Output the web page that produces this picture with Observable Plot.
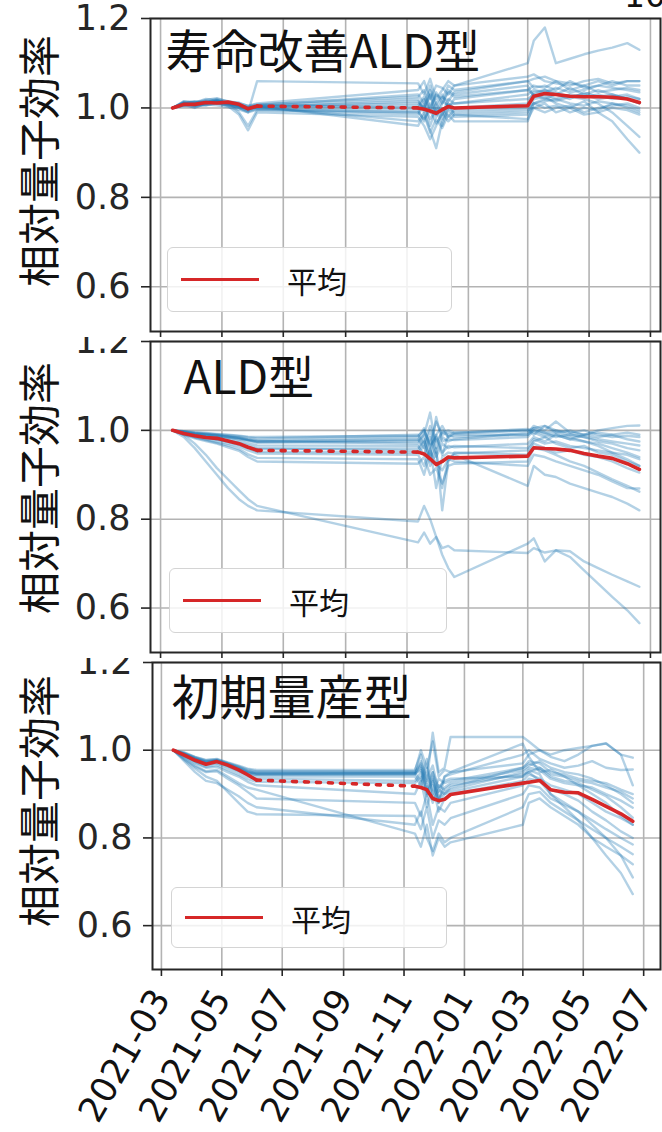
<!DOCTYPE html>
<html>
<head>
<meta charset="utf-8">
<script src="https://cdn.jsdelivr.net/npm/d3@7"></script>
<script src="https://cdn.jsdelivr.net/npm/@observablehq/plot@0.6"></script>
<style>
  html, body { margin: 0; padding: 0; background: #fff; }
  #chart { position: relative; width: 662px; height: 1132px; overflow: hidden; background: #fff; }
  .panel { position: absolute; left: 0; width: 662px; overflow: hidden; background: #fff; }
  .panel svg { overflow: hidden; }
  .ylab { position: absolute; font-family: "Noto Sans CJK JP", sans-serif; font-size: 42px; color: #111;
          white-space: nowrap; transform: translate(-50%, -50%) rotate(-90deg); line-height: 1; }
  .legend { position: absolute; box-sizing: border-box; border: 1.5px solid #d4d4d4; border-radius: 6px;
            background: rgba(255,255,255,0.82); }
  .legend .swatch { position: absolute; left: 13px; height: 3.5px; width: 78px; background: #d62728; }
  .legend .lab { position: absolute; left: 119px; font-family: "Noto Sans CJK JP", sans-serif; font-size: 30px;
                 line-height: 1; color: #111; }
  .corner { position: absolute; left: 624px; top: -24px; font-family: "DejaVu Sans", sans-serif; font-size: 33px; color: #111; }
</style>
</head>
<body>
<div id="chart"></div>
<script>
// Measurement dates shared by all cells (spring 2021, late autumn 2021, spring 2022 sessions)
const measureDates = [
  "2021-03-13","2021-03-24","2021-04-04","2021-04-15","2021-04-26","2021-05-07","2021-05-18","2021-05-27","2021-06-05",
  "2021-11-12","2021-11-18","2021-11-24","2021-11-30","2021-12-06","2021-12-12","2021-12-18",
  "2022-03-01","2022-03-07","2022-03-18","2022-03-29","2022-04-12","2022-04-26","2022-05-10","2022-05-24","2022-06-08","2022-06-20"
];
const panelTitles = ["寿命改善ALD型", "ALD型", "初期量産型"];
const yAxisLabel = "相対量子効率";
const legendLabel = "平均";
const yTickValues = [0.6, 0.8, 1.0, 1.2];
const xTickLabels = ["2021-03","2021-05","2021-07","2021-09","2021-11","2022-01","2022-03","2022-05","2022-07"];

// Average relative quantum efficiency per type
const meanLongLifeALD = [1.000,1.008,1.008,1.012,1.011,1.013,1.008,0.998,1.004, 1.000,0.997,0.993,0.988,0.996,1.003,1.000, 1.005,1.026,1.032,1.030,1.026,1.025,1.025,1.024,1.020,1.012];
const meanALD = [1.000,0.993,0.988,0.984,0.982,0.976,0.970,0.962,0.955, 0.951,0.947,0.936,0.923,0.930,0.940,0.938, 0.942,0.961,0.959,0.958,0.955,0.948,0.942,0.937,0.925,0.912];
const meanEarly = [1.000,0.989,0.977,0.968,0.974,0.966,0.955,0.944,0.932, 0.918,0.915,0.910,0.890,0.885,0.888,0.899, 0.925,0.927,0.931,0.910,0.904,0.903,0.888,0.872,0.855,0.838];

// Individual cells, 寿命改善ALD型
const cellsLongLifeALD = [
  [1.000,1.010,1.015,1.012,1.020,1.015,1.010,1.005,1.010, 1.040,1.060,1.020,1.050,1.045,1.030,1.050, 1.100,1.150,1.180,1.100,1.110,1.120,1.128,1.135,1.145,1.130],
  [1.000,1.005,1.008,1.012,1.010,1.006,1.000,0.990,1.060, 1.055,1.030,1.065,1.020,1.040,1.060,1.050, 1.070,1.075,1.060,1.055,1.050,1.060,1.065,1.055,1.060,1.060],
  [1.000,1.015,1.012,1.020,1.018,1.010,1.005,0.998,1.005, 1.020,0.990,1.030,0.980,1.010,1.035,1.025, 1.040,1.050,1.045,1.060,1.040,1.050,1.035,1.040,1.045,1.040],
  [1.000,1.008,1.000,1.010,1.015,1.012,0.990,0.960,0.995, 0.990,1.010,0.960,1.000,0.975,1.010,1.000, 1.010,1.035,1.040,1.030,1.045,1.030,1.040,1.030,1.020,1.010],
  [1.000,1.012,1.006,1.008,1.012,1.004,0.985,0.950,0.990, 0.980,0.960,0.930,0.960,0.990,0.970,0.985, 0.990,1.020,1.025,1.010,1.000,1.015,0.990,0.970,0.930,0.900],
  [1.000,1.006,1.010,1.016,1.014,1.010,1.006,1.000,1.004, 1.010,1.000,1.030,0.990,1.015,1.005,1.010, 1.020,1.030,1.040,1.035,1.025,1.030,1.020,1.025,1.030,1.020],
  [1.000,1.010,1.005,1.006,1.010,1.008,1.004,0.998,1.002, 0.970,0.990,0.950,0.910,0.970,0.995,0.980, 0.985,1.010,1.015,1.020,1.010,1.005,1.015,1.010,1.005,0.995],
  [1.000,1.014,1.012,1.018,1.022,1.014,1.012,1.004,1.008, 1.025,1.040,1.000,1.030,1.020,1.050,1.040, 1.060,1.045,1.050,1.040,1.060,1.045,1.050,1.060,1.050,1.050],
  [1.000,1.004,1.002,1.008,1.006,1.002,0.996,0.990,0.996, 0.985,1.005,0.975,0.995,0.960,1.000,0.990, 0.995,1.000,1.010,0.990,1.000,0.985,0.990,1.000,0.995,0.985],
  [1.000,1.012,1.014,1.010,1.016,1.010,1.008,1.002,1.006, 1.000,1.020,0.990,1.010,1.030,1.000,1.020, 1.040,1.030,1.020,1.030,1.020,1.035,1.025,1.030,1.020,1.010],
  [1.000,1.008,1.004,1.012,1.016,1.008,1.002,0.994,1.000, 0.995,0.970,1.010,0.985,1.000,0.980,0.995, 1.000,1.010,1.000,1.005,0.990,1.000,0.995,1.010,1.000,0.990],
  [1.000,1.010,1.012,1.014,1.012,1.006,1.002,0.998,1.002, 1.015,1.000,1.040,1.010,0.985,1.020,1.010, 1.030,1.040,1.035,1.045,1.035,1.040,1.050,1.045,1.040,1.035],
  [1.000,1.006,1.008,1.010,1.014,1.010,1.006,1.000,1.004, 0.960,0.985,0.945,0.975,0.955,0.985,0.970, 0.970,1.010,1.020,1.015,1.025,1.020,1.010,0.990,0.960,0.935],
  [1.000,1.010,1.008,1.012,1.016,1.010,1.004,0.996,1.002, 1.005,1.025,0.995,1.035,1.010,1.040,1.030, 1.050,1.025,1.030,1.020,1.030,1.025,1.030,1.020,1.025,1.020],
  [1.000,1.008,1.010,1.006,1.012,1.008,1.000,0.992,0.998, 0.990,0.975,0.995,0.965,0.985,1.010,0.985, 0.975,1.000,0.990,1.000,1.005,0.990,1.000,1.005,1.010,1.000],
  [1.000,1.012,1.006,1.014,1.018,1.012,1.008,1.000,1.006, 1.030,1.010,1.050,1.000,1.025,1.015,1.035, 1.060,1.065,1.070,1.060,1.055,1.050,1.060,1.050,1.060,1.060]
];

// Individual cells, ALD型
const cellsALD = [
  [1.000,0.998,0.996,0.994,0.992,0.990,0.988,0.986,0.985, 0.988,1.000,0.970,1.020,0.990,0.995,0.992, 1.000,1.005,1.010,1.000,0.995,1.000,0.990,0.985,0.988,0.985],
  [1.000,0.996,0.992,0.990,0.988,0.985,0.982,0.978,0.975, 0.980,0.960,1.000,0.950,0.985,0.975,0.980, 0.995,1.010,1.000,1.020,0.995,0.990,1.000,1.005,1.010,1.011],
  [1.000,0.994,0.988,0.984,0.980,0.976,0.970,0.962,0.958, 0.960,0.980,0.930,0.990,0.950,0.965,0.962, 0.970,0.985,0.975,0.990,0.980,0.975,0.970,0.960,0.950,0.940],
  [1.000,0.992,0.985,0.980,0.975,0.970,0.964,0.955,0.948, 0.945,0.920,0.960,0.870,0.940,0.950,0.948, 0.955,0.975,0.985,0.970,0.960,0.965,0.950,0.945,0.930,0.920],
  [1.000,0.995,0.990,0.988,0.986,0.983,0.980,0.977,0.972, 0.975,0.990,1.040,0.960,1.000,0.985,0.990, 0.990,1.000,0.995,0.985,0.990,0.985,0.980,0.975,0.970,0.966],
  [1.000,0.990,0.982,0.976,0.970,0.962,0.954,0.940,0.930, 0.925,0.940,0.900,0.915,0.880,0.920,0.925, 0.930,0.960,0.955,0.945,0.930,0.920,0.905,0.890,0.875,0.862],
  [1.000,0.997,0.994,0.992,0.990,0.987,0.984,0.980,0.978, 0.985,1.005,0.960,0.990,1.010,0.985,0.995, 1.000,0.990,1.010,0.995,0.985,0.975,0.965,0.950,0.935,0.920],
  [1.000,0.993,0.987,0.983,0.979,0.974,0.968,0.960,0.952, 0.950,0.965,0.920,0.950,0.870,0.935,0.945, 0.875,0.920,0.900,0.895,0.880,0.870,0.860,0.850,0.835,0.820],
  [1.000,0.996,0.993,0.991,0.989,0.986,0.983,0.979,0.976, 0.970,0.990,0.945,1.030,0.975,0.980,0.978, 0.985,1.000,0.990,0.995,1.000,0.990,0.995,0.990,0.980,0.975],
  [1.000,0.994,0.989,0.985,0.981,0.977,0.972,0.966,0.960, 0.955,0.975,0.935,0.960,0.820,0.930,0.950, 0.945,0.970,0.960,0.950,0.955,0.945,0.940,0.930,0.915,0.905],
  [1.000,0.998,0.995,0.993,0.991,0.989,0.987,0.984,0.982, 0.990,0.970,1.010,0.975,0.995,1.000,0.995, 1.003,0.995,0.985,0.990,0.980,0.990,0.985,0.990,0.995,0.990],
  [1.000,0.991,0.984,0.978,0.972,0.966,0.958,0.946,0.938, 0.935,0.900,0.955,0.925,0.910,0.935,0.930, 0.920,0.945,0.940,0.930,0.920,0.910,0.900,0.885,0.870,0.869],
  [1.000,0.995,0.991,0.987,0.984,0.980,0.976,0.971,0.966, 0.965,0.945,0.985,0.940,0.970,0.960,0.965, 0.960,0.980,0.970,0.975,0.965,0.960,0.955,0.950,0.945,0.935],
  [1.000,0.997,0.993,0.990,0.988,0.985,0.982,0.978,0.974, 0.978,1.000,0.965,0.985,0.945,0.990,0.985, 0.990,1.005,0.995,1.000,0.990,0.985,0.975,0.970,0.960,0.955],
  [1.000,0.985,0.960,0.930,0.900,0.870,0.845,0.830,0.820, 0.795,0.830,0.800,0.760,0.720,0.690,0.670, 0.745,0.757,0.705,0.730,0.728,0.705,0.690,0.675,0.660,0.648],
  [1.000,0.990,0.970,0.945,0.915,0.890,0.865,0.845,0.830, 0.748,0.770,0.745,0.760,0.735,0.740,0.730, 0.724,0.735,0.725,0.730,0.715,0.685,0.655,0.625,0.595,0.566]
];

// Individual cells, 初期量産型
const cellsEarly = [
  [1.000,0.995,0.985,0.978,0.980,0.972,0.965,0.958,0.955, 0.955,0.990,0.930,1.040,0.950,0.960,1.030, 1.030,1.020,1.000,0.990,1.000,1.005,1.010,1.015,0.990,0.983],
  [1.000,0.993,0.983,0.975,0.978,0.970,0.962,0.953,0.950, 0.950,0.970,0.900,0.930,0.880,0.940,0.945, 0.990,1.000,0.980,0.970,0.960,0.965,0.975,0.960,0.955,0.956],
  [1.000,0.990,0.978,0.970,0.974,0.965,0.956,0.947,0.944, 0.945,0.960,0.920,0.880,0.910,0.900,0.915, 0.960,0.975,0.970,0.950,0.945,0.935,0.930,0.925,0.910,0.900],
  [1.000,0.988,0.975,0.966,0.970,0.961,0.950,0.940,0.935, 0.930,0.950,0.905,0.940,0.890,0.905,0.910, 0.950,0.960,0.955,0.935,0.925,0.920,0.915,0.900,0.885,0.869],
  [1.000,0.991,0.980,0.972,0.976,0.968,0.958,0.950,0.946, 0.948,0.930,0.980,0.890,0.920,0.910,0.920, 0.945,0.950,0.960,0.940,0.930,0.925,0.910,0.895,0.870,0.846],
  [1.000,0.985,0.970,0.960,0.962,0.950,0.940,0.928,0.920, 0.900,0.930,0.870,0.920,0.860,0.890,0.900, 0.930,0.945,0.935,0.920,0.910,0.900,0.880,0.860,0.845,0.830],
  [1.000,0.980,0.962,0.950,0.952,0.935,0.920,0.905,0.890, 0.880,0.850,0.900,0.830,0.870,0.860,0.880, 0.920,0.935,0.930,0.910,0.900,0.885,0.860,0.840,0.815,0.800],
  [1.000,0.978,0.958,0.940,0.930,0.905,0.880,0.860,0.854, 0.850,0.820,0.870,0.800,0.840,0.830,0.845, 0.900,0.920,0.915,0.890,0.875,0.860,0.840,0.820,0.800,0.785],
  [1.000,0.975,0.950,0.930,0.925,0.910,0.895,0.880,0.870, 0.830,0.860,0.800,0.770,0.810,0.790,0.800, 0.870,0.900,0.905,0.880,0.860,0.840,0.820,0.800,0.780,0.763],
  [1.000,0.982,0.965,0.952,0.955,0.940,0.925,0.915,0.910, 0.810,0.780,0.830,0.760,0.800,0.780,0.790, 0.830,0.880,0.890,0.870,0.850,0.830,0.800,0.780,0.760,0.740],
  [1.000,0.992,0.982,0.974,0.977,0.969,0.960,0.952,0.948, 0.948,0.965,0.925,0.950,0.915,0.930,0.935, 0.940,0.955,0.945,0.900,0.880,0.860,0.830,0.800,0.760,0.710],
  [1.000,0.987,0.973,0.962,0.966,0.955,0.944,0.934,0.928, 0.925,0.940,0.895,0.935,0.880,0.900,0.905, 0.940,0.950,0.930,0.900,0.870,0.840,0.800,0.760,0.720,0.672],
  [1.000,0.994,0.984,0.977,0.979,0.971,0.963,0.956,0.952, 0.952,1.000,0.960,1.020,0.940,0.955,0.950, 0.970,0.990,1.000,0.985,0.975,0.990,1.010,1.016,0.990,0.920],
  [1.000,0.989,0.976,0.968,0.972,0.963,0.953,0.944,0.940, 0.940,0.920,0.960,0.900,0.935,0.925,0.930, 0.960,0.970,0.960,0.945,0.940,0.930,0.925,0.915,0.905,0.890],
  [1.000,0.990,0.979,0.971,0.975,0.966,0.957,0.948,0.945, 0.945,0.975,0.935,0.965,0.905,0.940,0.950, 1.015,0.985,0.950,0.955,0.940,0.920,0.900,0.880,0.850,0.830],
  [1.000,0.992,0.981,0.973,0.976,0.968,0.959,0.950,0.947, 0.947,0.955,0.910,0.950,0.890,0.915,0.925, 0.955,0.965,0.975,0.960,0.950,0.945,0.935,0.920,0.900,0.880]
];

// Placement of the three stacked panels on the page
const panelLayout = [
  { top: 0,   height: 338, marginTop: 18, marginBottom: 7,   marginLeft: 150, xFrom: "2021-02-19", xTo: "2022-07-11",
    titleDx: 15, titleDy: 35, titleSize: 46, labels: false, yLabelY: 161, legend: { left: 167, top: 247, width: 285, height: 65 } },
  { top: 337, height: 321, marginTop: 4,  marginBottom: 6,   marginLeft: 150, xFrom: "2021-02-19", xTo: "2022-07-11",
    titleDx: 33, titleDy: 38, titleSize: 46, labels: false, yLabelY: 488, legend: { left: 169, top: 568, width: 278, height: 65 } },
  { top: 658, height: 474, marginTop: 4,  marginBottom: 163, marginLeft: 152, xFrom: "2021-02-20", xTo: "2022-07-18",
    titleDx: 19, titleDy: 37, titleSize: 48, labels: true,  yLabelY: 801, legend: { left: 171, top: 887, width: 276, height: 61 } }
];

const parseDay = d3.utcParse("%Y-%m-%d");
const parseMonth = d3.utcParse("%Y-%m");
const dates = measureDates.map(parseDay);
const xTicks = xTickLabels.map(parseMonth);

const cellColor = "#1f77b4";
const meanColor = "#d62728";
const gridColor = "#b3b3b3";
const inkColor = "#262626";

function drawPanel(cells, mean, title, L) {
  const cellRows = cells.flatMap((values, k) => values.map((v, i) => ({ date: dates[i], value: v, cell: k })));
  const meanRows = mean.map((v, i) => ({ date: dates[i], value: v, i }));
  // The long summer pause between sessions is drawn as a dotted stretch of the average
  const pauseIndex = meanRows.findIndex((d, i) => i > 0 && (d.date - meanRows[i - 1].date) > 100 * 864e5);
  const solidRows = meanRows.map(d => ({ ...d, part: d.i < pauseIndex ? 0 : 1 }));
  const dottedRows = meanRows.slice(pauseIndex - 1, pauseIndex + 1);

  return Plot.plot({
    width: 662,
    height: L.height,
    marginLeft: L.marginLeft,
    marginRight: 2,
    marginTop: L.marginTop,
    marginBottom: L.marginBottom,
    style: { fontFamily: "DejaVu Sans, sans-serif", background: "#fff", overflow: "hidden" },
    x: { type: "utc", domain: [parseDay(L.xFrom), parseDay(L.xTo)] },
    y: { domain: [0.5, 1.2] },
    marks: [
      Plot.gridX({ ticks: xTicks, stroke: gridColor, strokeOpacity: 1, strokeWidth: 1.6 }),
      Plot.gridY({ ticks: yTickValues, stroke: gridColor, strokeOpacity: 1, strokeWidth: 1.6 }),
      Plot.lineY(cellRows, { x: "date", y: "value", z: "cell", stroke: cellColor, strokeOpacity: 0.34, strokeWidth: 2.4 }),
      Plot.lineY(dottedRows, { x: "date", y: "value", stroke: meanColor, strokeWidth: 3.6, strokeDasharray: "4,8" }),
      Plot.lineY(solidRows, { x: "date", y: "value", z: "part", stroke: meanColor, strokeWidth: 3.6 }),
      Plot.frame({ stroke: inkColor, strokeWidth: 2 }),
      Plot.axisY({ ticks: yTickValues, tickFormat: d3.format(".1f"), tickSize: 9, tickPadding: 11,
                   fontSize: 35, stroke: inkColor, strokeWidth: 1.6, fill: inkColor, label: null }),
      L.labels
        ? Plot.axisX({ ticks: xTicks, tickFormat: d3.utcFormat("%Y-%m"), tickSize: 7, tickPadding: 16, tickRotate: -60,
                       fontSize: 35, stroke: inkColor, strokeWidth: 1.6, fill: "#111", label: null })
        : Plot.axisX({ ticks: xTicks, tickFormat: () => "", tickSize: 6, stroke: inkColor, strokeWidth: 1.6, label: null }),
      Plot.text([title], { text: d => d, frameAnchor: "top-left", dx: L.titleDx, dy: L.titleDy,
                           textAnchor: "start", lineAnchor: "middle", fontSize: L.titleSize,
                           fontFamily: "Noto Sans CJK JP", fill: "#111" })
    ]
  });
}

const chart = document.getElementById("chart");
const panelCells = [cellsLongLifeALD, cellsALD, cellsEarly];
const panelMeans = [meanLongLifeALD, meanALD, meanEarly];

panelLayout.forEach((L, p) => {
  const box = document.createElement("div");
  box.className = "panel";
  box.style.top = L.top + "px";
  box.style.height = L.height + "px";
  box.appendChild(drawPanel(panelCells[p], panelMeans[p], panelTitles[p], L));
  chart.appendChild(box);

  const yl = document.createElement("div");
  yl.className = "ylab";
  yl.style.left = "37px";
  yl.style.top = L.yLabelY + "px";
  yl.textContent = yAxisLabel;
  chart.appendChild(yl);

  const lg = document.createElement("div");
  lg.className = "legend";
  Object.assign(lg.style, { left: L.legend.left + "px", top: L.legend.top + "px",
                            width: L.legend.width + "px", height: L.legend.height + "px" });
  const sw = document.createElement("span");
  sw.className = "swatch";
  sw.style.top = (L.legend.height / 2 - 3) + "px";
  const lb = document.createElement("span");
  lb.className = "lab";
  lb.style.top = (L.legend.height / 2 - 16) + "px";
  lb.textContent = legendLabel;
  lg.append(sw, lb);
  chart.appendChild(lg);
});

const corner = document.createElement("div");
corner.className = "corner";
corner.textContent = "10";
chart.appendChild(corner);
</script>
</body>
</html>
